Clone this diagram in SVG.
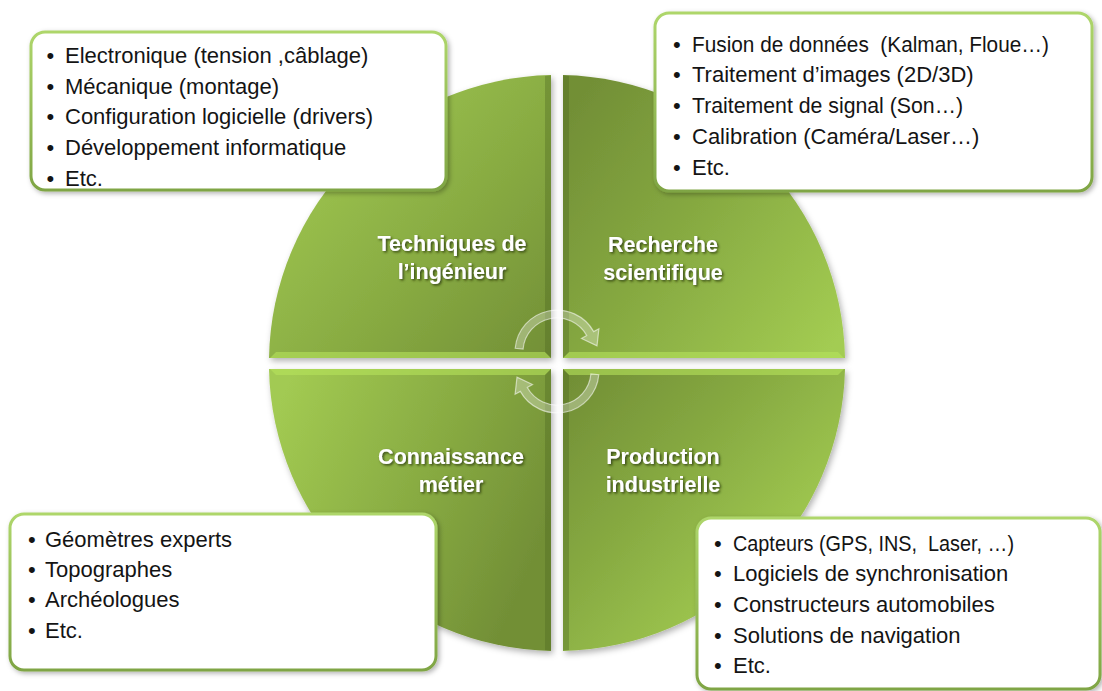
<svg xmlns="http://www.w3.org/2000/svg" width="1102" height="691" viewBox="0 0 1102 691">
<style>
.lbl{font-family:"Liberation Sans",Arial,sans-serif;font-weight:bold;font-size:21.5px;fill:#ffffff;text-anchor:middle;filter:url(#tshadow)}
.itm{font-family:"Liberation Sans",Arial,sans-serif;font-size:22px;fill:#141414;white-space:pre}
.box{fill:#ffffff;stroke:url(#gBox);stroke-width:3;filter:url(#bshadow)}
.hi{fill:#b6e25c;opacity:0.6}
.dk{fill:#4a6420;opacity:0.35}
.arr{fill:#ffffff;fill-opacity:0.3;stroke:#ffffff;stroke-opacity:0.55;stroke-width:1.2}
</style>
<defs>
<filter id="qshadow" x="-10%" y="-10%" width="120%" height="120%">
<feDropShadow dx="2" dy="3" stdDeviation="3" flood-color="#000" flood-opacity="0.3"/>
</filter>
<filter id="bshadow" x="-10%" y="-10%" width="120%" height="125%">
<feDropShadow dx="2" dy="2" stdDeviation="2.5" flood-color="#000" flood-opacity="0.3"/>
</filter>
<filter id="tshadow" x="-10%" y="-20%" width="120%" height="150%">
<feDropShadow dx="1.5" dy="1.5" stdDeviation="1" flood-color="#2a3a10" flood-opacity="0.85"/>
</filter>
<linearGradient id="gBox" x1="0" y1="0" x2="0" y2="1">
<stop offset="0" stop-color="#aed66b"/>
<stop offset="1" stop-color="#7fa544"/>
</linearGradient>
<linearGradient id="gTL" gradientUnits="userSpaceOnUse" x1="280" y1="120" x2="551" y2="358">
<stop offset="0" stop-color="#a2ca52"/>
<stop offset="0.55" stop-color="#88ab42"/>
<stop offset="1" stop-color="#728f36"/>
</linearGradient>
<linearGradient id="gTR" gradientUnits="userSpaceOnUse" x1="563" y1="120" x2="845" y2="330">
<stop offset="0" stop-color="#728f36"/>
<stop offset="0.45" stop-color="#86a941"/>
<stop offset="1" stop-color="#a3cc52"/>
</linearGradient>
<linearGradient id="gBL" gradientUnits="userSpaceOnUse" x1="280" y1="400" x2="551" y2="520">
<stop offset="0" stop-color="#a2ca52"/>
<stop offset="0.55" stop-color="#88ab42"/>
<stop offset="1" stop-color="#728f36"/>
</linearGradient>
<linearGradient id="gBR" gradientUnits="userSpaceOnUse" x1="570" y1="380" x2="790" y2="580">
<stop offset="0" stop-color="#728f36"/>
<stop offset="0.45" stop-color="#86a941"/>
<stop offset="1" stop-color="#a3cc52"/>
</linearGradient>
</defs>

<rect width="1102" height="691" fill="#ffffff"/>

<g id="node-techniques">
<path d="M551 358 V75 A288 288 0 0 0 269 358 Z" fill="url(#gTL)" filter="url(#qshadow)"/>
<path class="hi" d="M270 358 H551 L545 352 H276 Z"/>
<path class="dk" d="M551 75.5 V358 L545 352 V76 Z"/>
<text class="lbl" x="452" y="251">Techniques de</text>
<text class="lbl" x="452" y="279">l’ingénieur</text>
</g>

<g id="node-recherche">
<path d="M563 358 V75 A288 288 0 0 1 845 358 Z" fill="url(#gTR)" filter="url(#qshadow)"/>
<path class="hi" d="M563 358 H844 L838 352 H569 Z"/>
<path class="dk" d="M563 75.5 V358 L569 352 V76 Z"/>
<text class="lbl" x="663" y="252">Recherche</text>
<text class="lbl" x="663" y="280">scientifique</text>
</g>

<g id="node-connaissance">
<path d="M551 369 V651 A288 288 0 0 1 269 369 Z" fill="url(#gBL)" filter="url(#qshadow)"/>
<path class="hi" d="M270 369 H551 L545 375 H276 Z"/>
<path class="dk" d="M551 650.5 V369 L545 375 V650 Z"/>
<text class="lbl" x="451" y="464">Connaissance</text>
<text class="lbl" x="451" y="492">métier</text>
</g>

<g id="node-production">
<path d="M563 369 V651 A288 288 0 0 0 845 369 Z" fill="url(#gBR)" filter="url(#qshadow)"/>
<path class="hi" d="M563 369 H844 L838 375 H569 Z"/>
<path class="dk" d="M563 650.5 V369 L569 375 V650 Z"/>
<text class="lbl" x="663" y="464">Production</text>
<text class="lbl" x="663" y="492">industrielle</text>
</g>

<g id="connectors">
<path id="arrow-top" class="arr" d="M515.2 348.3 A42 42 0 0 1 593.7 331.6 L598.9 328.8 L597 345.9 L581.5 338.5 L586.7 335.5 A34 34 0 0 0 523.1 349 Z"/>
<path id="arrow-bottom" class="arr" transform="rotate(180 557 361.5)" d="M515.2 348.3 A42 42 0 0 1 593.7 331.6 L598.9 328.8 L597 345.9 L581.5 338.5 L586.7 335.5 A34 34 0 0 0 523.1 349 Z"/>
</g>

<g id="box-techniques">
<rect class="box" x="31" y="32" width="415" height="158" rx="14"/>
<text class="itm" x="46.5" y="63">•</text><text class="itm" x="65" y="63">Electronique (tension ,câblage)</text>
<text class="itm" x="46.5" y="94">•</text><text class="itm" x="65" y="94">Mécanique (montage)</text>
<text class="itm" x="46.5" y="124">•</text><text class="itm" x="65" y="124">Configuration logicielle (drivers)</text>
<text class="itm" x="46.5" y="155">•</text><text class="itm" x="65" y="155">Développement informatique</text>
<text class="itm" x="46.5" y="186">•</text><text class="itm" x="65" y="186">Etc.</text>
</g>

<g id="box-recherche">
<rect class="box" x="655" y="13" width="437" height="178" rx="14"/>
<text class="itm" x="673" y="52">•</text><text class="itm" x="692" y="52" textLength="357" lengthAdjust="spacingAndGlyphs">Fusion de données  (Kalman, Floue…)</text>
<text class="itm" x="673" y="82">•</text><text class="itm" x="692" y="82">Traitement d’images (2D/3D)</text>
<text class="itm" x="673" y="113">•</text><text class="itm" x="692" y="113" textLength="271" lengthAdjust="spacingAndGlyphs">Traitement de signal (Son…)</text>
<text class="itm" x="673" y="144">•</text><text class="itm" x="692" y="144">Calibration (Caméra/Laser…)</text>
<text class="itm" x="673" y="175">•</text><text class="itm" x="692" y="175">Etc.</text>
</g>

<g id="box-connaissance">
<rect class="box" x="10" y="514" width="426" height="156" rx="14"/>
<text class="itm" x="28" y="547">•</text><text class="itm" x="45" y="547">Géomètres experts</text>
<text class="itm" x="28" y="577">•</text><text class="itm" x="45" y="577">Topographes</text>
<text class="itm" x="28" y="607">•</text><text class="itm" x="45" y="607">Archéologues</text>
<text class="itm" x="28" y="638">•</text><text class="itm" x="45" y="638">Etc.</text>
</g>

<g id="box-production">
<rect class="box" x="697" y="518" width="403" height="171" rx="14"/>
<text class="itm" x="714" y="551">•</text><text class="itm" x="733" y="551" textLength="281" lengthAdjust="spacingAndGlyphs">Capteurs (GPS, INS,  Laser, …)</text>
<text class="itm" x="714" y="581">•</text><text class="itm" x="733" y="581">Logiciels de synchronisation</text>
<text class="itm" x="714" y="612">•</text><text class="itm" x="733" y="612">Constructeurs automobiles</text>
<text class="itm" x="714" y="643">•</text><text class="itm" x="733" y="643">Solutions de navigation</text>
<text class="itm" x="714" y="673">•</text><text class="itm" x="733" y="673">Etc.</text>
</g>
</svg>
